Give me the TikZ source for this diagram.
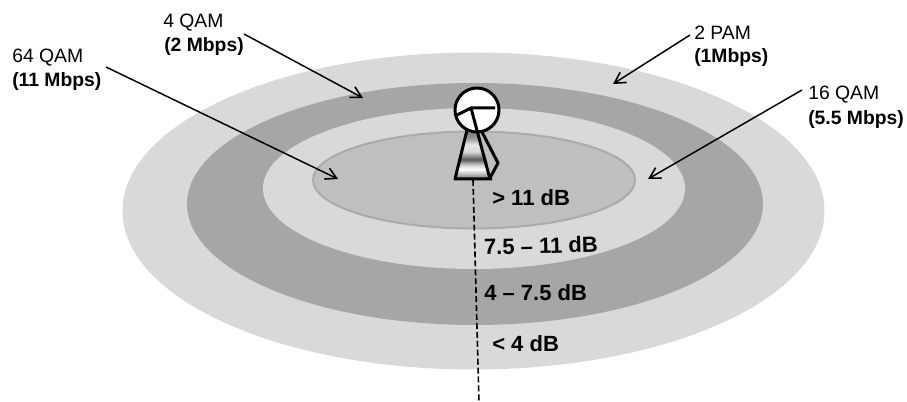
\documentclass[tikz,border=0pt]{standalone}
\usepackage{fontspec}
\setmainfont{Liberation Sans}
\usetikzlibrary{arrows.meta}
\definecolor{ringlight}{HTML}{D9D9D9}
\definecolor{ringdark}{HTML}{A6A6A6}
\definecolor{corefill}{HTML}{BFBFBF}
\definecolor{coreedge}{HTML}{ABABAB}
\pgfdeclareverticalshading{mastshade}{100bp}{
  color(0bp)=(black!55);
  color(25bp)=(black!55);
  color(35bp)=(white);
  color(39.5bp)=(black!20);
  color(45bp)=(black!65);
  color(53bp)=(black!15);
  color(60bp)=(black!10);
  color(66.5bp)=(black!40);
  color(75bp)=(black!55);
  color(100bp)=(black!55)}
\tikzset{
  modlabel/.style={anchor=base west,inner sep=0pt,font=\fontsize{14.5pt}{18pt}\selectfont},
  dblabel/.style={anchor=base west,inner sep=0pt,font=\fontsize{16.5pt}{20pt}\selectfont\bfseries},
  pointer/.style={draw=black,line width=1.1pt,-{Straight Barb[length=8pt,width=9pt,line width=1.2pt]}},
  towerline/.style={draw=black,line width=2.25pt,line join=round},
  axisline/.style={draw=black,line width=1.2pt,dash pattern=on 4.5pt off 2.2pt}
}
\begin{document}
\begin{tikzpicture}[x=0.75pt,y=-0.75pt]
\useasboundingbox (0,0) rectangle (907,402);
% rings
\fill[ringlight] (473.5,211) ellipse [x radius=351,y radius=158.5];
\fill[ringdark] (475,204) ellipse [x radius=288,y radius=121];
\fill[ringlight] (474,188.5) ellipse [x radius=211,y radius=80.5];
\filldraw[fill=corefill,draw=coreedge,line width=1.5pt] (474,180) ellipse [x radius=161,y radius=48.5];
% axis
\coordinate (axistop) at (473,180);
\coordinate (axisend) at (479,402);
\draw[axisline] (axistop) -- (axisend);
% tower
\shade[shading=mastshade] (467,130) -- (478,130) -- (492,179) -- (455,179) -- cycle;
\draw[towerline] (467,130) -- (455,179) -- (492,179);
\draw[towerline] (482,132) -- (498,163) -- (490,178);
\filldraw[towerline,fill=white] (477,110) circle [radius=22];
\coordinate (hub) at (471,108);
\draw[towerline] (495,108) -- (hub) -- (457,115);
\draw[towerline] (hub) -- (490,179);
% labels
\node[modlabel] (lab64) at (12,63) {64 QAM};
\node[modlabel] (rate64) at (12,87) {\bfseries (11 Mbps)};
\node[modlabel] (lab4) at (163,28) {4 QAM};
\node[modlabel] (rate4) at (164,52) {\bfseries (2 Mbps)};
\node[modlabel] (lab2) at (694,40) {2 PAM};
\node[modlabel] (rate2) at (694,63) {\bfseries (1Mbps)};
\node[modlabel] (lab16) at (808,100) {16 QAM};
\node[modlabel] (rate16) at (808,125) {\bfseries (5.5 Mbps)};
\node[dblabel] (db1) at (492,206) {> 11 dB};
\node[dblabel,rotate=1.5] (db2) at (484,255) {7.5 – 11 dB};
\node[dblabel] (db3) at (484,301) {4 – 7.5 dB};
\node[dblabel] (db4) at (492,352) {< 4 dB};
% pointers
\coordinate (s64) at (106,67); \coordinate (e64) at (338,179);
\coordinate (s4) at (244,34); \coordinate (e4) at (363,98);
\coordinate (s2) at (690,35); \coordinate (e2) at (613,84);
\coordinate (s16) at (802,90); \coordinate (e16) at (648,179);
\draw[pointer] (s64) -- (e64);
\draw[pointer] (s4) -- (e4);
\draw[pointer] (s2) -- (e2);
\draw[pointer] (s16) -- (e16);
\end{tikzpicture}
\end{document}
